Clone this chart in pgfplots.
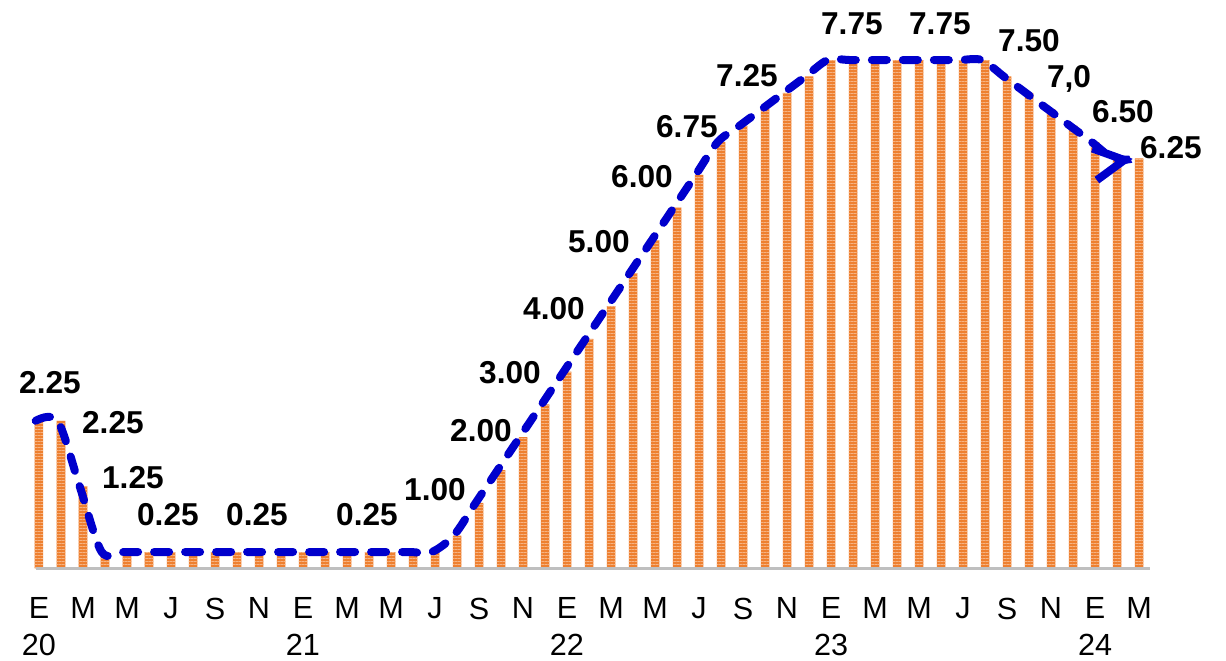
\documentclass[border=0pt]{standalone}
\usepackage{fontspec}
\setmainfont{Liberation Sans}
\usepackage{pgfplots}
\usepackage{pgfplotstable}
\pgfplotsset{compat=1.18}
\usetikzlibrary{arrows.meta,patterns.meta}
\definecolor{barorange}{RGB}{238,128,48}
\definecolor{stripe}{RGB}{246,180,132}
\definecolor{lineblue}{RGB}{0,0,204}
\definecolor{axisgray}{RGB}{191,191,191}
\newcommand\labfont{\bfseries\fontsize{9}{10}\selectfont}

\pgfplotstableread{
idx val
0 2.25
1 2.25
2 1.25
3 0.25
4 0.25
5 0.25
6 0.25
7 0.25
8 0.25
9 0.25
10 0.25
11 0.25
12 0.25
13 0.25
14 0.25
15 0.25
16 0.25
17 0.25
18 0.25
19 0.5
20 1.0
21 1.5
22 2.0
23 2.5
24 3.0
25 3.5
26 4.0
27 4.5
28 5.0
29 5.5
30 6.0
31 6.5
32 6.75
33 7.0
34 7.25
35 7.5
36 7.75
37 7.75
38 7.75
39 7.75
40 7.75
41 7.75
42 7.75
43 7.75
44 7.5
45 7.25
46 7.0
47 6.75
48 6.5
49 6.25
50 6.25
}\rates

\begin{document}
\begin{tikzpicture}
\path[use as bounding box] (0,-0.916) rectangle (12.26,5.684);
\begin{axis}[
  at={(0,0)}, anchor=south west,
  scale only axis, width=12.26cm, height=5.684cm,
  xmin=-1.7727, xmax=53.955, ymin=0, ymax=8.6646,
  axis line style={draw=none},
  ytick=\empty,
  xtick={0,2,...,50},
  xticklabels={{E\\20},M,M,J,S,N,{E\\21},M,M,J,S,N,{E\\22},M,M,J,S,N,{E\\23},M,M,J,S,N,{E\\24},M},
  major tick length=0pt,
  xticklabel style={font=\fontsize{8.7}{10.5}\selectfont, align=center, anchor=north, yshift=-0.17cm},
  clip=false,
  nodes={text depth=0pt},
]
\addplot[ybar, bar width=0.085cm, bar shift=0pt, fill=barorange, draw=none,
  postaction={pattern={Lines[angle=0,distance=0.03cm,line width=0.01cm]}, pattern color=stripe}]
  table[x=idx, y=val] {\rates};
\draw[axisgray, line width=0.035cm] (axis cs:-0.15,0) -- (axis cs:50.5,0);
\addplot[lineblue, line width=0.08cm, dash pattern=on 0.15cm off 0.16cm, line cap=round, smooth,
  -{Straight Barb[length=0.3cm, width=0.32cm]}, shorten >=0.03cm]
  table[x expr=\thisrow{idx}-0.15, y=val] {\rates};
\node[font=\labfont] at (axis cs:0.50,2.84) {2.25};
\node[font=\labfont] at (axis cs:3.36,2.23) {2.25};
\node[font=\labfont] at (axis cs:4.27,1.39) {1.25};
\node[font=\labfont] at (axis cs:5.86,0.83) {0.25};
\node[font=\labfont] at (axis cs:9.91,0.83) {0.25};
\node[font=\labfont] at (axis cs:14.91,0.83) {0.25};
\node[font=\labfont] at (axis cs:18.0,1.20) {1.00};
\node[font=\labfont] at (axis cs:20.09,2.11) {2.00};
\node[font=\labfont] at (axis cs:21.41,2.99) {3.00};
\node[font=\labfont] at (axis cs:23.41,3.96) {4.00};
\node[font=\labfont] at (axis cs:25.45,4.99) {5.00};
\node[font=\labfont] at (axis cs:27.41,5.98) {6.00};
\node[font=\labfont] at (axis cs:29.45,6.74) {6.75};
\node[font=\labfont] at (axis cs:32.18,7.52) {7.25};
\node[font=\labfont] at (axis cs:36.95,8.31) {7.75};
\node[font=\labfont] at (axis cs:40.95,8.31) {7.75};
\node[font=\labfont] at (axis cs:45.0,8.05) {7.50};
\node[font=\labfont] at (axis cs:46.82,7.50) {7,0};
\node[font=\labfont] at (axis cs:49.27,6.97) {6.50};
\node[font=\labfont] at (axis cs:51.45,6.41) {6.25};
\end{axis}
\end{tikzpicture}
\end{document}
